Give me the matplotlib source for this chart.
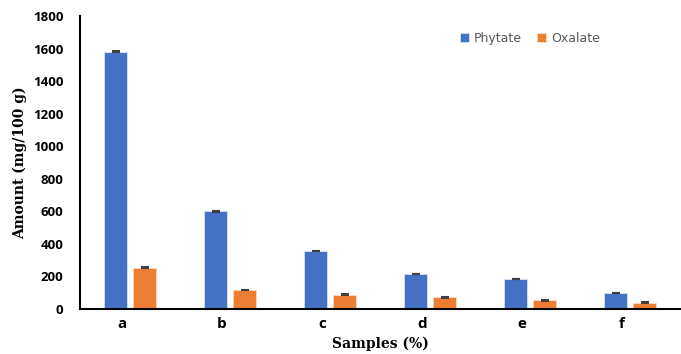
import matplotlib.pyplot as plt
import numpy as np

samples = ["a", "b", "c", "d", "e", "f"]
phytate = [1580, 600, 357, 216, 185, 99]
oxalate = [254, 117, 88, 72, 53, 39]
phytate_err = [2, 2, 2, 2, 2, 2]
oxalate_err = [2, 2, 2, 2, 2, 2]

fig = plt.figure(figsize=(6.81, 3.54), dpi=100)
ax = fig.add_axes([80 / 681, 1 - 309 / 354, 600 / 681, 293 / 354])

x = np.arange(len(samples))
w = 0.23
err_kw = dict(ecolor="#404040", elinewidth=0.8, capsize=3, capthick=1.5)
ax.bar(x - 0.145, phytate, w, yerr=phytate_err, color="#4472C4",
       edgecolor="#d6e0f2", linewidth=0.6, label="Phytate", error_kw=err_kw)
ax.bar(x + 0.145, oxalate, w, yerr=oxalate_err, color="#ED7D31",
       edgecolor="#fbd9c3", linewidth=0.6, label="Oxalate", error_kw=err_kw)

ax.set_xlim(-0.5, 5.5)
ax.set_ylim(0, 1800)
ax.set_yticks(range(0, 1801, 200))
ax.set_xticks(x - 0.08)
ax.set_xticklabels(samples, fontsize=11, fontweight="bold",
                   family="Open Sans")
for lbl in ax.get_yticklabels():
    lbl.set_fontweight("bold")
    lbl.set_family("Open Sans")
    lbl.set_fontsize(9.5)
ax.tick_params(length=0)
ax.tick_params(axis="x", pad=6)
ax.tick_params(axis="y", pad=12)

for s in ["top", "right"]:
    ax.spines[s].set_visible(False)
for s in ["left", "bottom"]:
    ax.spines[s].set_linewidth(1.5)
    ax.spines[s].set_color("black")

ax.set_ylabel("Amount (mg/100 g)", family="DejaVu Serif", fontweight="bold",
              fontsize=10, labelpad=4)
ax.set_xlabel("Samples (%)", family="DejaVu Serif", fontweight="bold",
              fontsize=10, labelpad=4)

ax.legend(loc="upper left", bbox_to_anchor=(0.615, 0.985), ncol=2,
          frameon=False, fontsize=9, handlelength=0.7, handleheight=0.7,
          columnspacing=1.2, handletextpad=0.4, labelcolor="#595959")

fig.savefig("out.png", dpi=100)
